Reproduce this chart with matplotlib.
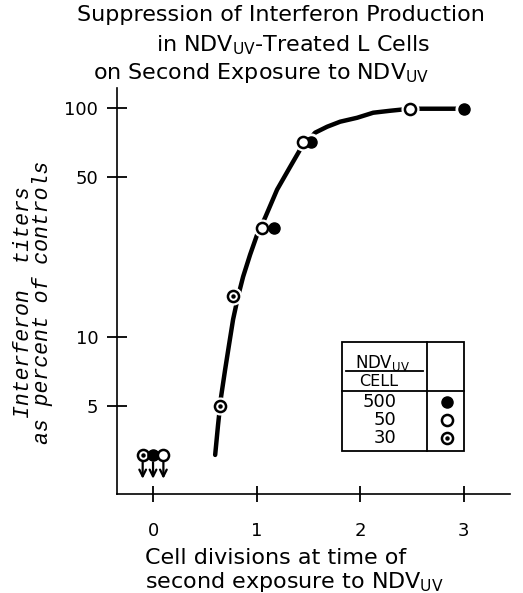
import matplotlib
matplotlib.use("Agg")
import matplotlib.pyplot as plt
from matplotlib.patches import Rectangle
from matplotlib.lines import Line2D

# data
curve_x = [0.60, 0.628, 0.657, 0.696, 0.734, 0.773, 0.821, 0.870, 0.937, 1.005, 1.082,
           1.198, 1.324, 1.420, 1.565, 1.681, 1.807, 1.971, 2.126, 2.29, 2.483, 3.0]
curve_y = [3.05, 4.13, 5.47, 7.18, 9.23, 11.9, 15.0, 18.3, 22.8, 27.9, 33.1,
           43.9, 55.2, 65.6, 77.8, 82.6, 86.9, 90.4, 95.1, 97.0, 99.0, 99.0]

x500 = [1.17, 1.53, 3.0]
y500 = [30, 71, 99]
x50 = [1.05, 1.45, 2.48]
y50 = [30, 71, 99]
x30 = [0.65, 0.77]
y30 = [5, 15]

# below detection (arrows) at time 0
lt_x = [-0.10, 0.0, 0.10]
lt_kind = ["30", "500", "50"]
lt_y = 3.05

yticks = [5, 10, 50, 100]
xticks = [0, 1, 2, 3]
legend_rows = ["500", "50", "30"]

fig = plt.figure(figsize=(5.23, 5.93), dpi=100)
ax = fig.add_axes([0.2237, 0.167, 0.752, 0.6847])
ax.set_yscale("log")
ax.set_xlim(-0.348, 3.45)
ax.set_ylim(2.06, 122)

for s in ["top", "right"]:
    ax.spines[s].set_visible(False)
for s in ["left", "bottom"]:
    ax.spines[s].set_linewidth(1.2)

ax.set_yticks(yticks)
ax.set_yticklabels([str(v) for v in yticks])
ax.yaxis.set_minor_locator(matplotlib.ticker.NullLocator())
ax.set_xticks(xticks)
ax.set_xticklabels([str(v) for v in xticks])
ax.tick_params(axis="y", direction="inout", length=15, width=1.3, pad=6, labelsize=13)
ax.tick_params(axis="x", direction="inout", length=12, width=1.3, pad=14, labelsize=13)

ax.plot(curve_x, curve_y, color="black", lw=3.2, solid_capstyle="round",
        solid_joinstyle="round", zorder=2)

def mark(xs, ys, kind, **kw):
    ax.plot(xs, ys, "o", ms=12, color="white", mec="white", zorder=3, **kw)
    if kind == "500":
        ax.plot(xs, ys, "o", ms=8, color="black", mec="black", zorder=4, **kw)
    else:
        ax.plot(xs, ys, "o", ms=8, mfc="white", mec="black", mew=1.8, zorder=4, **kw)
        if kind == "30":
            ax.plot(xs, ys, "o", ms=2.2, color="black", zorder=5, **kw)

mark(x500, y500, "500")
mark(x50, y50, "50")
mark(x30, y30, "30")
for x, k in zip(lt_x, lt_kind):
    mark([x], [lt_y], k, clip_on=False)
    ax.annotate("", xy=(x, 2.40), xytext=(x, 2.83),
                arrowprops=dict(arrowstyle="->", lw=1.6, color="black",
                                mutation_scale=12, shrinkA=0, shrinkB=0))

# legend table
T = ax.transAxes
ax.add_patch(Rectangle((0.5725, 0.1059), 0.883 - 0.5725, 0.3744 - 0.1059,
                       fill=False, lw=1.3, ec="black", transform=T))
ax.add_line(Line2D([0.789, 0.789], [0.1059, 0.3744], lw=1.3, color="black", transform=T))
ax.add_line(Line2D([0.5725, 0.883], [0.2537, 0.2537], lw=1.3, color="black", transform=T))
ax.add_line(Line2D([0.583, 0.779], [0.303, 0.303], lw=1.3, color="black", transform=T))
ax.text(0.674, 0.3227, r"NDV$_{\mathrm{UV}}$", transform=T, ha="center", va="center", fontsize=12)
ax.text(0.665, 0.2759, "CELL", transform=T, ha="center", va="center", fontsize=11.5)
row_y = [0.2266, 0.1823, 0.138]
for lab, yy in zip(legend_rows, row_y):
    ax.text(0.71, yy, lab, transform=T, ha="right", va="center", fontsize=13)
    mark([0.84], [yy], lab, transform=T)

# titles and labels
fig.text(0.537, 0.9747, "Suppression of Interferon Production", ha="center", va="center", fontsize=16)
fig.text(0.56, 0.924, r"in NDV$_{\mathrm{UV}}$-Treated L Cells", ha="center", va="center", fontsize=16)
fig.text(0.50, 0.877, r"on Second Exposure to NDV$_{\mathrm{UV}}$", ha="center", va="center", fontsize=16)

fig.text(0.044, 0.49, "Interferon  titers", rotation=90, ha="center", va="center",
         fontsize=15.5, family="Liberation Mono", style="italic")
fig.text(0.082, 0.49, "as percent of controls", rotation=90, ha="center", va="center",
         fontsize=15.5, family="Liberation Mono", style="italic")

fig.text(0.277, 0.059, "Cell divisions at time of", ha="left", va="center", fontsize=16)
fig.text(0.277, 0.0185, r"second exposure to NDV$_{\mathrm{UV}}$", ha="left", va="center", fontsize=16)

fig.savefig("out.png", dpi=100)
